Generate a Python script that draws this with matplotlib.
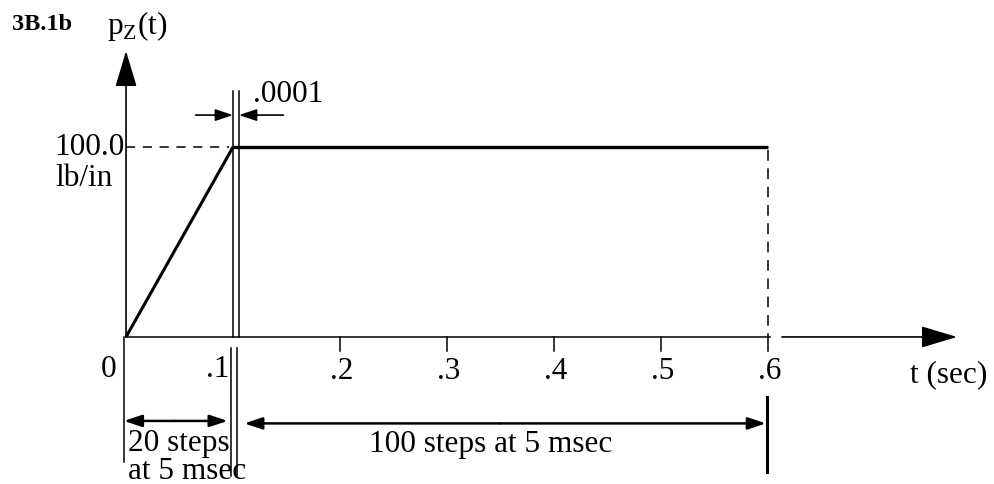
import matplotlib
matplotlib.use("Agg")
import matplotlib.pyplot as plt

plt.rcParams['font.family'] = ['Liberation Serif', 'DejaVu Serif']
plt.rcParams['mathtext.fontset'] = 'custom'
plt.rcParams['mathtext.rm'] = 'Liberation Serif'

# load history p_z(t): linear rise, then constant
step_dt = 0.005          # sec
rise_steps = 20
hold_steps = 100
p_max = 100.0            # lb/in
t_rise = rise_steps * step_dt
t_end = t_rise + hold_steps * step_dt
t_load = [0.0, t_rise, t_end]
p_load = [0.0, p_max, p_max]

tick_t = [0.2, 0.3, 0.4, 0.5, 0.6]
tick_labels = ['.2', '.3', '.4', '.5', '.6']

fs = 22.5
gap = 0.0055  # drawn width of the .0001 sec gap (exaggerated)

fig = plt.figure(figsize=(9.94, 4.85), dpi=100)
ax = fig.add_axes([0, 0, 1, 1])
ax.set_xlim(-0.1178, 0.8112)
ax.set_ylim(-77.4, 177.9)
ax.axis('off')

def arrow(x0, y0, x1, y1, style, scale, lw=1.2):
    ax.annotate('', xy=(x1, y1), xytext=(x0, y0),
                arrowprops=dict(arrowstyle=style, mutation_scale=scale,
                                color='black', lw=lw, shrinkA=0, shrinkB=0))

# axes with arrowheads
big = '-|>,head_length=1.5,head_width=0.45'
arrow(0, 0, 0, 150.5, big, 15)
ax.plot([0, t_end + 0.002], [0, 0], color='black', lw=1.1)
arrow(t_end + 0.013, 0, 0.7766, 0, big, 15)

# ticks below the axis
for t, lab in zip(tick_t, tick_labels):
    ax.plot([t, t], [0, -7.4], color='black', lw=1.1)
    ax.text(t + 0.002, -17.5, lab, fontsize=fs, ha='center', va='center')
ax.text(-0.016, -16.8, '0', fontsize=fs, ha='center', va='center')
ax.text(t_rise - 0.003, -16.8, '.1', fontsize=fs, ha='right', va='center')
ax.text(0.769, -19.5, 't (sec)', fontsize=fs, ha='center', va='center')

# load curve
ax.plot(t_load[:2], p_load[:2], color='black', lw=2.2, solid_capstyle='butt')
ax.plot(t_load[1:], p_load[1:], color='black', lw=2.4, solid_capstyle='butt')
ax.plot([0, t_rise - 0.004], [p_max, p_max], color='black', lw=1.1,
        dashes=(6, 5))
ax.plot([t_end, t_end], [p_max - 1.5, 0], color='black', lw=1.1,
        dashes=(7, 5))

# double lines marking the .0001 sec gap
for dx in (0, gap):
    ax.plot([t_rise + dx, t_rise + dx], [0, 129.5], color='black', lw=1.1)
    ax.plot([t_rise - 0.002 + dx, t_rise - 0.002 + dx], [-5.8, -73], color='black', lw=1.1)

small = '-|>,head_length=0.9,head_width=0.3'
arrow(0.065, 116.8, t_rise, 116.8, small, 12)
arrow(0.147, 116.8, t_rise + gap, 116.8, small, 12)
ax.text(0.1187, 128.4, '.0001', fontsize=fs, ha='left', va='center')

# y labels and title
ax.text(-0.001, 100.5, '100.0', fontsize=fs, ha='right', va='center')
ax.text(-0.066, 84, 'lb/in', fontsize=fs, ha='left', va='center')
ax.text(-0.1065, 165, '3B.1b', fontsize=17.5, fontweight='bold',
        ha='left', va='center')
ax.text(-0.0178, 164, r'p$_\mathregular{Z}$(t)', fontsize=fs,
        ha='left', va='center')

# step dimensions
ax.plot([-0.002, -0.002], [0, -65.8], color='black', lw=1.1)
arrow(0.045, -44.2, -0.002, -44.2, small, 12, lw=1.8)
arrow(0.045, -44.2, t_rise - 0.005, -44.2, small, 12, lw=1.8)
ax.text(0.002, -55.3, '20 steps', fontsize=fs, ha='left', va='center')
ax.text(0.002, -70.5, 'at 5 msec', fontsize=fs, ha='left', va='center')

ax.plot([t_end - 0.001, t_end - 0.001], [-31.6, -71], color='black', lw=2.2)
arrow(0.35, -45.5, t_rise + 0.0105, -45.5, small, 12, lw=1.8)
arrow(0.35, -45.5, t_end - 0.002, -45.5, small, 12, lw=1.8)
ax.text(0.341, -56.3, '100 steps at 5 msec', fontsize=fs, ha='center', va='center')

fig.savefig('out.png', dpi=100, facecolor='white')
